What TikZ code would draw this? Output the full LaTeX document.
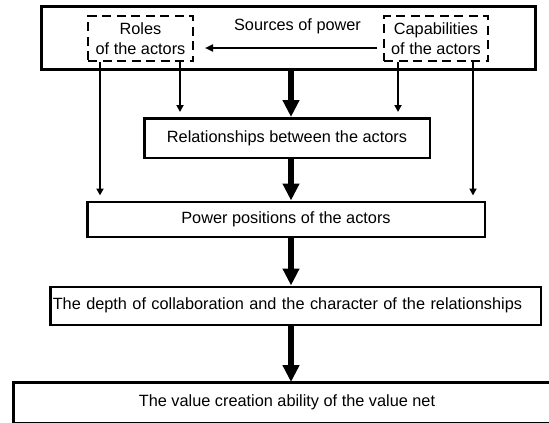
\documentclass[tikz,border=0pt]{standalone}
\usepackage{fontspec}
\setmainfont{Liberation Sans}
\usetikzlibrary{arrows.meta}

\tikzset{
  boxnode/.style={draw, line width=2.5pt, inner sep=0pt, align=center},
  outerbox/.style={draw, line width=3pt, inner sep=0pt},
  dashbox/.style={draw, line width=2pt, dash pattern=on 9pt off 5.5pt, inner sep=0pt, align=center},
  mainflow/.style={line width=5.8pt, -{Triangle[width=16pt,length=17pt]}},
  sideflow/.style={line width=1.8pt, -{Triangle[width=7pt,length=7pt]}},
  crossflow/.style={line width=2.2pt, -{Triangle[width=7pt,length=8pt]}},
}

\begin{document}
\begin{tikzpicture}[x=1pt, y=-1pt, font=\fontsize{16.3}{20}\selectfont]
  \useasboundingbox (0,0) rectangle (549,423);
  \clip (0,0) rectangle (549,423);
  \fill[white] (0,0) rectangle (549,423);

  % column positions of the connectors
  \coordinate (ax) at (291,0);
  \coordinate (ra) at (100,0);
  \coordinate (rb) at (180,0);
  \coordinate (ca) at (398,0);
  \coordinate (cb) at (473,0);

  % sources of power
  \node[outerbox, minimum width=494pt, minimum height=63pt] (src) at (288.5,38) {};
  \node[anchor=base] (srclabel) at (297.5,30) {Sources of power};
  \node[dashbox, minimum width=105pt, minimum height=45pt] (roles) at (140.5,38.5) {Roles\\of the actors};
  \node[dashbox, minimum width=104pt, minimum height=45pt] (caps) at (436,38.5) {Capabilities\\of the actors};

  % chain of effects
  \node[boxnode, minimum width=285.5pt, minimum height=39.5pt] (rel) at (287,138) {Relationships between the actors};
  \node[boxnode, minimum width=397.5pt, minimum height=35pt] (pow) at (286,219.25) {Power positions of the actors};
  \node[boxnode, minimum height=38pt, inner xsep=2.5pt, text width=485.5pt, align=left] (depth) at (295.5,305.75) {The depth of collaboration and the character of the relationships};

  % final outcome, running off the right edge
  \draw[line width=2.5pt] (13.25,382.25) rectangle (570,423);
  \node[inner sep=0pt, minimum height=40.5pt] (val) at (287,402.5) {The value creation ability of the value net};

  % capabilities shape the roles
  \draw[crossflow, shorten <=6pt, shorten >=11pt] ([yshift=-9.5pt]caps.west) -- ([yshift=-9.5pt]roles.east);

  % main flow
  \draw[mainflow] (src.south -| ax) -- (rel.north -| ax);
  \draw[mainflow] (rel.south -| ax) -- (pow.north -| ax);
  \draw[mainflow] (pow.south -| ax) -- (depth.north -| ax);
  \draw[mainflow] (depth.south -| ax) -- (val.north -| ax);

  % side influences
  \draw[sideflow, shorten >=5pt] (roles.south -| ra) -- (pow.north -| ra);
  \draw[sideflow, shorten >=5pt] (roles.south -| rb) -- (rel.north -| rb);
  \draw[sideflow, shorten >=5pt] (caps.south -| ca) -- (rel.north -| ca);
  \draw[sideflow, shorten >=5pt] (caps.south -| cb) -- (pow.north -| cb);
\end{tikzpicture}
\end{document}
